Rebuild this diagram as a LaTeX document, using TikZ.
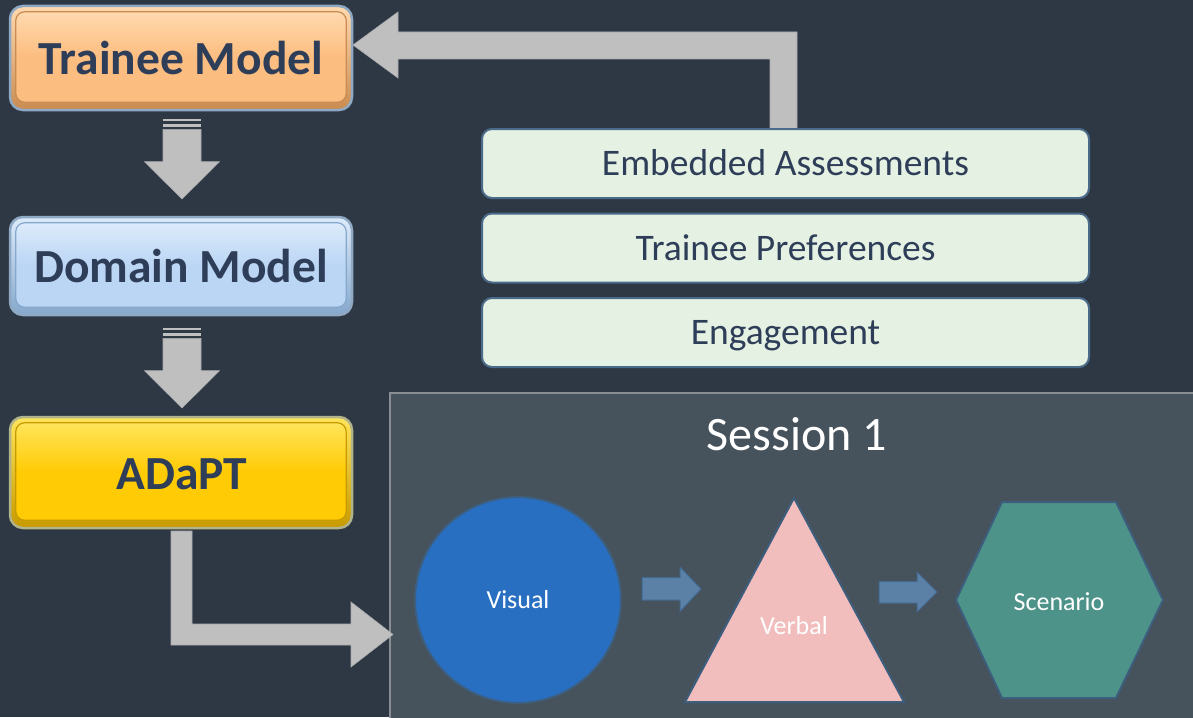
\documentclass[tikz,border=0pt]{standalone}
\usepackage{fontspec}
\setmainfont{Carlito}
\usetikzlibrary{calc}
\definecolor{bg}{HTML}{2E3844}
\definecolor{sessfill}{HTML}{46525C}
\definecolor{sessline}{HTML}{8A8E92}
\definecolor{arrgray}{HTML}{BFBFBF}
\definecolor{arrgrayline}{HTML}{A9ABAE}
\definecolor{navy}{HTML}{2E3D58}
\definecolor{glow}{HTML}{8FA9C4}
\definecolor{tmlight}{HTML}{FFD9AE}
\definecolor{tmbase}{HTML}{FCBD80}
\definecolor{tmdark}{HTML}{C98C52}
\definecolor{dmlight}{HTML}{DDEBFB}
\definecolor{dmbase}{HTML}{BBD6F4}
\definecolor{dmdark}{HTML}{86A8CC}
\definecolor{adlight}{HTML}{FFE45A}
\definecolor{adbase}{HTML}{FFCB05}
\definecolor{addark}{HTML}{C79A00}
\definecolor{greenfill}{HTML}{E5F1E2}
\definecolor{greenline}{HTML}{4B6B8B}
\definecolor{visfill}{HTML}{286FC2}
\definecolor{verbfill}{HTML}{F2BDBD}
\definecolor{scenfill}{HTML}{4E938A}
\definecolor{shapeline}{HTML}{3E5E7E}
\definecolor{smallarr}{HTML}{5B81A7}
\definecolor{smallarrline}{HTML}{42698F}
\tikzset{
  bevelouter/.style={rounded corners=13pt, minimum width=342pt, draw=glow, line width=2.5pt, inner sep=0pt},
  bevelinner/.style={rounded corners=9pt, line width=1.2pt},
  titletext/.style={text=navy, font=\fontsize{47.5}{50}\selectfont\bfseries},
  greenbox/.style={rounded corners=10pt, fill=greenfill, draw=greenline, line width=2pt, minimum width=607pt, minimum height=69pt, text=navy, font=\fontsize{37.5}{40}\selectfont, text height=24pt, text depth=0pt},
  grayarrow/.style={fill=arrgray, draw=arrgrayline, line width=0.6pt},
  bluearrow/.style={fill=smallarr, draw=smallarrline, line width=1pt},
  shapelabel/.style={text=white, font=\fontsize{26}{30}\selectfont},
  shapestyle/.style={draw=shapeline, line width=2pt}
}
\begin{document}
\begin{tikzpicture}[x=1pt,y=-1pt]
\useasboundingbox (0,0) rectangle (1193,717);
\fill[bg] (0,0) rectangle (1193,717);

% session panel
\draw[fill=sessfill, draw=sessline, line width=2pt] (390,393) rectangle (1210,735);
\node[text=white, font=\fontsize{48}{52}\selectfont] (sess) at (797,434) {Session 1};

% left model boxes
\node[bevelouter, top color=tmlight, bottom color=tmdark, minimum height=104pt] (tm) at (181,58) {};
\draw[bevelinner, top color=tmlight, bottom color=tmbase, middle color=tmbase, draw=tmdark] ($(tm.north west)+(7,7)$) rectangle ($(tm.south east)+(-7,-9)$);
\node[titletext] (tmlabel) at (181,58) {Trainee Model};

\node[bevelouter, top color=dmlight, bottom color=dmdark, minimum height=98pt] (dm) at (181,266) {};
\draw[bevelinner, top color=dmlight, bottom color=dmbase, middle color=dmbase, draw=dmdark] ($(dm.north west)+(7,7)$) rectangle ($(dm.south east)+(-7,-9)$);
\node[titletext] (dmlabel) at (181,266) {Domain Model};

\node[bevelouter, top color=adlight, bottom color=addark, minimum height=111pt, draw=glow!70!adbase] (ad) at (181,472.5) {};
\draw[bevelinner, top color=adlight, bottom color=adbase, middle color=adbase, draw=addark] ($(ad.north west)+(7,7)$) rectangle ($(ad.south east)+(-7,-9)$);
\node[titletext] (adlabel) at (182,474) {ADaPT};

% down arrows between model boxes
\fill[arrgray] (163,119.3) rectangle (201,121.3);
\fill[arrgray] (163,124) rectangle (201,126.7);
\draw[grayarrow] (163,129.3) -- (201,129.3) -- (201,161.7) -- (219.5,161.7) -- (182,199) -- (144.5,161.7) -- (163,161.7) -- cycle;

\fill[arrgray] (163,328.3) rectangle (201,330.3);
\fill[arrgray] (163,333) rectangle (201,335.7);
\draw[grayarrow] (163,338.3) -- (201,338.3) -- (201,370.7) -- (219.5,370.7) -- (182,408) -- (144.5,370.7) -- (163,370.7) -- cycle;

% feedback arrow to trainee model
\draw[grayarrow] (353,45) -- (398,12) -- (398,32) -- (797,32) -- (797,129) -- (770,129) -- (770,59) -- (398,59) -- (398,78) -- cycle;

% arrow from ADaPT to session
\draw[grayarrow] (171,531) -- (192,531) -- (192,624) -- (351,624) -- (351,602) -- (393,634.5) -- (351,667) -- (351,645) -- (171,645) -- cycle;

% green boxes
\node[greenbox] (ea) at (785.5,163.5) {Embedded Assessments};
\node[greenbox] (tp) at (785.5,248) {Trainee Preferences};
\node[greenbox] (en) at (785.5,332.5) {Engagement};

% session shapes
\draw[shapestyle, fill=visfill] (518,600) circle (103);
\node[shapelabel] (vis) at (518,600) {Visual};

\draw[shapestyle, fill=verbfill] (794,498) -- (904,702) -- (685,702) -- cycle;
\node[shapelabel] (verb) at (794,626) {Verbal};

\draw[shapestyle, fill=scenfill] (956,600) -- (1002,502) -- (1116,502) -- (1163,600) -- (1116,698) -- (1002,698) -- cycle;
\node[shapelabel] (scen) at (1059,602) {Scenario};

% small blue arrows
\draw[bluearrow] (642,577.5) -- (680,577.5) -- (680,567) -- (701,589) -- (680,611.5) -- (680,600) -- (642,600) -- cycle;
\draw[bluearrow] (879,581.5) -- (917,581.5) -- (917,572) -- (937,592) -- (917,612) -- (917,603) -- (879,603) -- cycle;
\end{tikzpicture}
\end{document}
